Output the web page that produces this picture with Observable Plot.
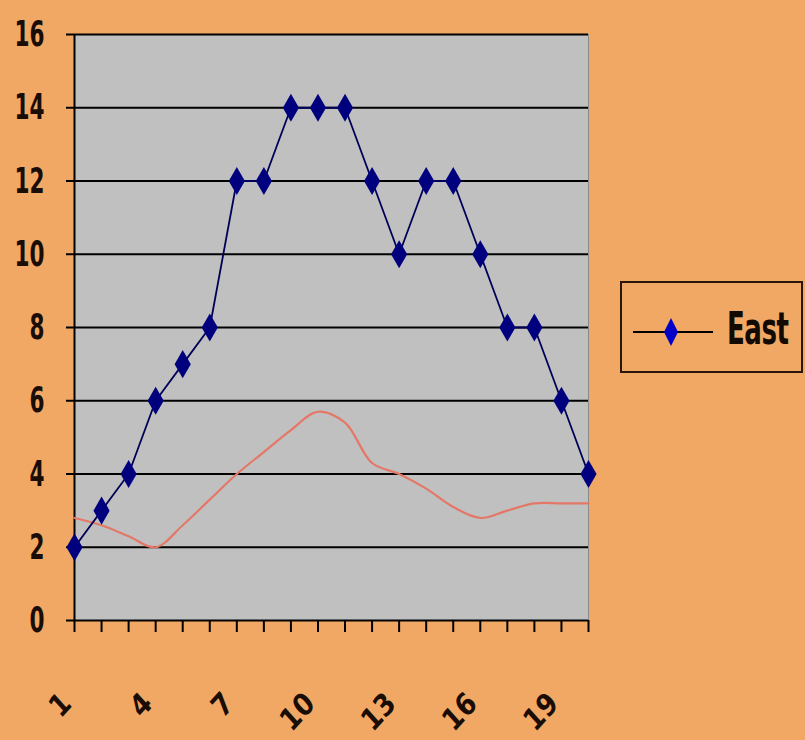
<!DOCTYPE html>
<html><head><meta charset="utf-8">
<script src="https://cdn.jsdelivr.net/npm/d3@7"></script>
<script src="https://cdn.jsdelivr.net/npm/@observablehq/plot@0.6"></script>
<style>
html,body{margin:0;padding:0;background:#F2A865;}
#wrap{position:relative;width:805px;height:740px;overflow:hidden;}
#legend{position:absolute;left:620px;top:281px;width:179px;height:88px;border:2px solid #2a1608;}
#legend svg{position:absolute;left:0;top:0;}
#legend .lbl{position:absolute;left:105px;top:20px;font-family:"Liberation Sans Narrow","DejaVu Sans Condensed",sans-serif;font-weight:bold;font-size:29px;line-height:50px;color:#140a04;transform:scaleY(1.55);transform-origin:left center;letter-spacing:-0.5px;}
</style></head><body><div id="wrap"></div>
<script>
const categories = [1,2,3,4,5,6,7,8,9,10,11,12,13,14,15,16,17,18,19,20];
const eastValues = [2,3,4,6,7,8,12,12,14,14,14,12,10,12,12,10,8,8,6,4];
const otherValues = [2.8,2.6,2.3,2.0,2.6,3.3,4.0,4.6,5.2,5.7,5.4,4.3,4.0,3.6,3.1,2.8,3.0,3.2,3.2,3.2];
const xTickLabels = [1,4,7,10,13,16,19];
const yTicks = [0,2,4,6,8,10,12,14,16];
const seriesName = "East";

const east = categories.map((c,i)=>({x:c,y:eastValues[i]}));
const other = categories.map((c,i)=>({x:c,y:otherValues[i]}));
const FONT = '"Liberation Sans Narrow","DejaVu Sans Condensed",sans-serif';

const chart = Plot.plot({
  width:805, height:740,
  marginLeft:74, marginRight:217, marginTop:34, marginBottom:120,
  style:{background:"transparent", fontFamily:FONT, overflow:"visible"},
  x:{type:"linear", domain:[1,20], axis:null, label:null},
  y:{domain:[0,16], axis:null, label:null},
  marks:[
    Plot.frame({fill:"#C0C0C0", stroke:null}),
    Plot.gridY(yTicks.filter(d=>d>0), {stroke:"#000", strokeOpacity:1, strokeWidth:2}),
    Plot.ruleX([20], {stroke:"#8a8a8a", strokeWidth:1}),
    Plot.axisY({ticks:yTicks, label:null, tickSize:8, tickPadding:22, fontSize:24, fontWeight:"bold", stroke:"#000", strokeWidth:2, fill:"#1a0d05", tickFormat:d=>String(d), className:"yax"}),
    Plot.ruleX([1], {stroke:"#000", strokeWidth:2}),
    Plot.axisX({ticks:categories, label:null, tickSize:12, tickFormat:()=>"", stroke:"#000", strokeWidth:2}),
    Plot.ruleY([0], {stroke:"#000", strokeWidth:2}),
    Plot.text(xTickLabels, {x:d=>d, y:()=>0, dx:-8, dy:78, rotate:-45, textAnchor:"end", lineAnchor:"middle", fontSize:28, fontWeight:"bold", fill:"#1a0d05", className:"xlab"}),
    Plot.line(other, {x:"x", y:"y", stroke:"#E47868", strokeWidth:2.2, curve:"catmull-rom"}),
    Plot.line(east, {x:"x", y:"y", stroke:"#000058", strokeWidth:1.8}),
    Plot.dot(east, {x:"x", y:"y", symbol:"diamond", r:8.5, fill:"#00007E", stroke:null})
  ]
});

// stretch text glyphs vertically (reference glyphs are tall and narrow)
function stretch(sel, k){
  sel.each(function(){
    const el = d3.select(this);
    const t = el.attr("transform");
    if (t && /translate\(/.test(t)) {
      el.attr("transform", t.replace(/(translate\([^)]*\))/, `$1 scale(1,${k})`));
    } else {
      const x = +el.attr("x") || 0, y = +el.attr("y") || 0;
      el.attr("x", null).attr("y", null).attr("transform", `translate(${x},${y}) scale(1,${k})`);
    }
  });
}
stretch(d3.select(chart).selectAll(".yax text"), 1.5);
stretch(d3.select(chart).selectAll(".xlab text"), 1.1);

const wrap = document.getElementById("wrap");
wrap.appendChild(chart);

const legend = document.createElement("div");
legend.id = "legend";
legend.innerHTML = `<svg width="100" height="88"><line x1="11" x2="91" y1="49" y2="49" stroke="#000" stroke-width="2"/><path transform="translate(49,49)" d="M0,-14L7,0L0,14L-7,0Z" fill="#0000C8"/></svg>`;
const lbl = document.createElement("span");
lbl.className = "lbl";
lbl.textContent = seriesName;
legend.appendChild(lbl);
wrap.appendChild(legend);
</script></body></html>
